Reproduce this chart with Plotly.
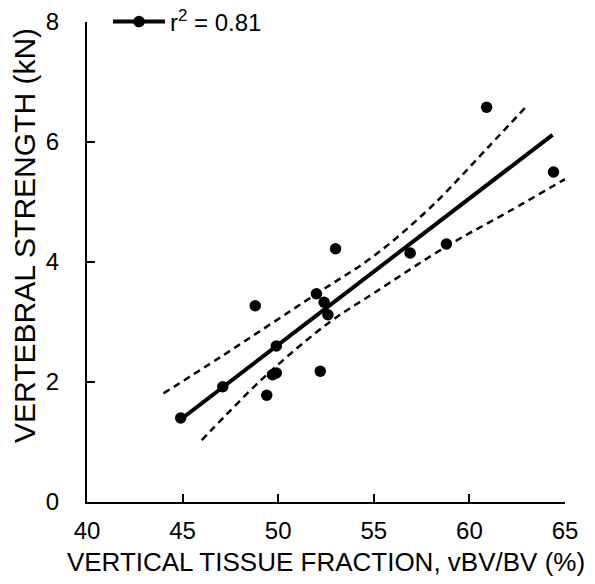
import plotly.graph_objects as go

# Data
vbv_bv = [44.9, 47.1, 48.8, 49.4, 49.7, 49.9, 49.9, 52.2, 52.0, 52.4, 52.6, 53.0, 56.9, 58.8, 60.9, 64.4]
strength = [1.40, 1.92, 3.27, 1.78, 2.12, 2.15, 2.60, 2.18, 3.47, 3.33, 3.12, 4.22, 4.15, 4.30, 6.58, 5.50]

fit_x = [45.0, 64.35]
fit_y = [1.40, 6.12]

upper_x = [44.0, 47.0, 52.0, 55.0, 58.0, 61.0, 63.0]
upper_y = [1.81, 2.42, 3.47, 4.10, 4.92, 5.92, 6.60]

lower_x = [46.0, 46.6, 49.4, 52.7, 55.0, 58.8, 62.0, 65.0]
lower_y = [1.03, 1.23, 2.12, 3.00, 3.48, 4.26, 4.83, 5.38]

legend_label = "r<sup>2</sup> = 0.81"
x_ticks = [40, 45, 50, 55, 60, 65]
y_ticks = [0, 2, 4, 6, 8]

FONT = "Liberation Sans, Arial, Helvetica, sans-serif"

fig = go.Figure()
fig.add_trace(go.Scatter(x=upper_x, y=upper_y, mode="lines",
                         line=dict(color="black", width=2.5, dash="7px,5px",
                                   shape="spline", smoothing=1),
                         showlegend=False, hoverinfo="skip"))
fig.add_trace(go.Scatter(x=lower_x, y=lower_y, mode="lines",
                         line=dict(color="black", width=2.5, dash="7px,5px",
                                   shape="spline", smoothing=1),
                         showlegend=False, hoverinfo="skip"))
fig.add_trace(go.Scatter(x=fit_x, y=fit_y, mode="lines",
                         line=dict(color="black", width=4),
                         showlegend=False))
fig.add_trace(go.Scatter(x=vbv_bv, y=strength, mode="markers",
                         marker=dict(color="black", size=11.5),
                         showlegend=False))
fig.add_trace(go.Scatter(x=[None], y=[None], mode="lines+markers",
                         line=dict(color="black", width=4),
                         marker=dict(color="black", size=11.5),
                         name=legend_label))

axis_common = dict(showline=True, linecolor="black", linewidth=2,
                   ticks="inside", ticklen=8, tickwidth=2, tickcolor="black",
                   showgrid=False, zeroline=False, mirror=False, automargin=False,
                   tickfont=dict(family=FONT, size=24, color="black"))

fig.update_layout(
    width=587, height=576,
    margin=dict(l=79, r=30, t=14, b=82, autoexpand=False),
    paper_bgcolor="white", plot_bgcolor="white",
    font=dict(family=FONT, color="black"),
    xaxis=dict(range=[40, 65], tickvals=x_ticks, ticklabelstandoff=6,
               title=dict(text="VERTICAL TISSUE FRACTION, vBV/BV (%)",
                          font=dict(family=FONT, size=26, color="black"),
                          standoff=10),
               **axis_common),
    yaxis=dict(range=[0, 8], tickvals=y_ticks, ticklabelstandoff=21,
               **axis_common),
    legend=dict(x=(108 - 87) / 478, y=1.0, xanchor="left", yanchor="middle",
                bgcolor="rgba(0,0,0,0)", itemwidth=52,
                font=dict(family=FONT, size=24, color="black")),
    annotations=[dict(text="VERTEBRAL STRENGTH (kN)", textangle=-90,
                      xref="paper", yref="paper",
                      x=(24 - 87) / 478, y=(502 - 236) / 480,
                      xanchor="center", yanchor="middle", showarrow=False,
                      font=dict(family=FONT, size=30, color="black"))],
)

fig.write_html("out.html")
